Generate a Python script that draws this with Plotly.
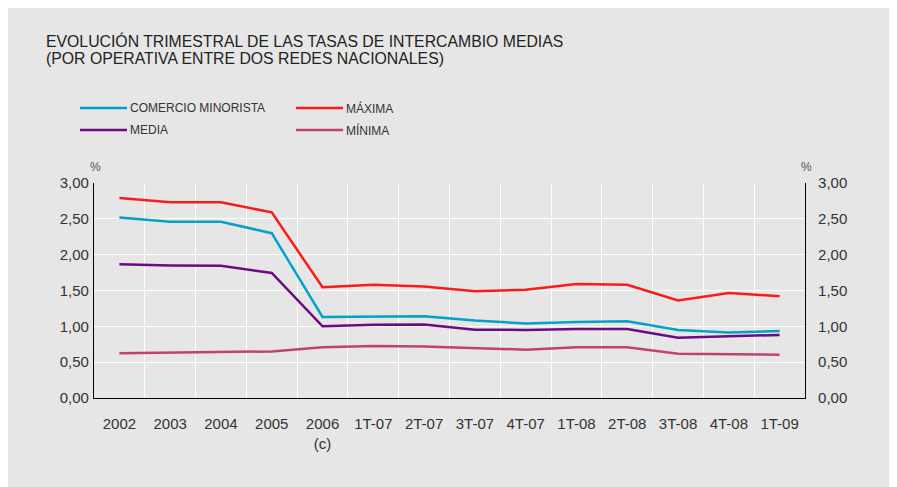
import plotly.graph_objects as go

categories = ["2002", "2003", "2004", "2005", "2006", "1T-07", "2T-07", "3T-07",
              "4T-07", "1T-08", "2T-08", "3T-08", "4T-08", "1T-09"]
tick_labels = ["2002", "2003", "2004", "2005", "2006<br>(c)", "1T-07", "2T-07", "3T-07",
               "4T-07", "1T-08", "2T-08", "3T-08", "4T-08", "1T-09"]

comercio_minorista = [2.52, 2.46, 2.46, 2.30, 1.13, 1.135, 1.14, 1.08, 1.04, 1.06, 1.07, 0.95, 0.915, 0.935]
maxima = [2.79, 2.73, 2.73, 2.59, 1.545, 1.58, 1.555, 1.49, 1.51, 1.59, 1.58, 1.36, 1.465, 1.42]
media = [1.865, 1.85, 1.846, 1.745, 1.0, 1.023, 1.025, 0.953, 0.95, 0.963, 0.963, 0.84, 0.86, 0.88]
minima = [0.623, 0.63, 0.637, 0.65, 0.707, 0.725, 0.72, 0.693, 0.675, 0.707, 0.707, 0.618, 0.61, 0.605]

y_ticks = [0, 0.5, 1.0, 1.5, 2.0, 2.5, 3.0]

title_lines = ["EVOLUCIÓN TRIMESTRAL DE LAS TASAS DE INTERCAMBIO MEDIAS",
               "(POR OPERATIVA ENTRE DOS REDES NACIONALES)"]

W, H = 897, 487
L, R, T, B = 86, 100, 175, 97
pw, ph = W - L - R, H - T - B

def px_x(x):
    return (x - L) / pw

def px_y(y):
    return 1 - (y - T) / ph

FONT = "Liberation Sans, Arial, sans-serif"
TXT = "#333333"
BG = "#e6e6e6"

series = [
    ("COMERCIO MINORISTA", comercio_minorista, "#00a2c8"),
    ("MÁXIMA", maxima, "#ff1a1a"),
    ("MEDIA", media, "#6c0a82"),
    ("MÍNIMA", minima, "#c3426c"),
]

fig = go.Figure()
for name, vals, col in series:
    fig.add_trace(go.Scatter(x=categories, y=vals, name=name, mode="lines",
                             line=dict(color=col, width=2.5), showlegend=False))
# carrier for the right-hand axis (draws nothing)
fig.add_trace(go.Scatter(x=categories, y=minima, yaxis="y2", mode="none",
                         showlegend=False, hoverinfo="skip"))

# manual legend (two columns, long line keys)
legend_pos = [(72, 100), (288, 100), (72, 122), (288, 122)]
shapes = []
annotations = []
for (name, vals, col), (lx, ly) in zip(series, legend_pos):
    shapes.append(dict(type="line", xref="paper", yref="paper",
                       x0=px_x(lx), x1=px_x(lx + 47), y0=px_y(ly), y1=px_y(ly),
                       line=dict(color=col, width=2.5)))
    annotations.append(dict(text=name, xref="paper", yref="paper",
                            x=px_x(lx + 48), y=px_y(ly), xanchor="left", yanchor="middle",
                            showarrow=False, font=dict(size=12, color=TXT)))

for i, line in enumerate(title_lines):
    annotations.append(dict(text=line, xref="paper", yref="paper",
                            x=px_x(36), y=px_y(33 + 18 * i), xanchor="left", yanchor="middle",
                            align="left", showarrow=False, font=dict(size=15.8, color="#222222")))

annotations += [
    dict(text="%", xref="paper", yref="paper", x=px_x(87), y=px_y(159),
         xanchor="center", yanchor="middle", showarrow=False, font=dict(size=12, color="#555555")),
    dict(text="%", xref="paper", yref="paper", x=px_x(798), y=px_y(159),
         xanchor="center", yanchor="middle", showarrow=False, font=dict(size=12, color="#555555")),
]

fig.update_layout(
    width=W, height=H,
    margin=dict(l=L, r=R, t=T, b=B),
    paper_bgcolor=BG,
    plot_bgcolor=BG,
    separators=",.",
    font=dict(family=FONT, color=TXT, size=12),
    showlegend=False,
    xaxis=dict(type="category", tickvals=categories, ticktext=tick_labels,
               tickson="boundaries", showgrid=True, gridcolor="white", gridwidth=1,
               showline=True, linecolor="black", linewidth=1.2,
               ticks="", ticklabelstandoff=12,
               tickfont=dict(size=15, color=TXT), range=[-0.5, 13.5], zeroline=False),
    yaxis=dict(range=[0, 3], tickvals=y_ticks, tickformat=".2f",
               showgrid=True, gridcolor="white", gridwidth=1,
               showline=True, linecolor="black", linewidth=1.2,
               ticks="outside", ticklen=1, tickcolor="rgba(0,0,0,0)",
               tickfont=dict(size=15, color=TXT), zeroline=False),
    yaxis2=dict(range=[0, 3], tickvals=y_ticks, tickformat=".2f", overlaying="y",
                side="right", showgrid=False, showline=True, linecolor="black",
                linewidth=1.2, ticks="outside", ticklen=9, tickcolor="rgba(0,0,0,0)",
                tickfont=dict(size=15, color=TXT), zeroline=False),
    shapes=shapes,
    annotations=annotations,
)

fig.write_html("out.html")
